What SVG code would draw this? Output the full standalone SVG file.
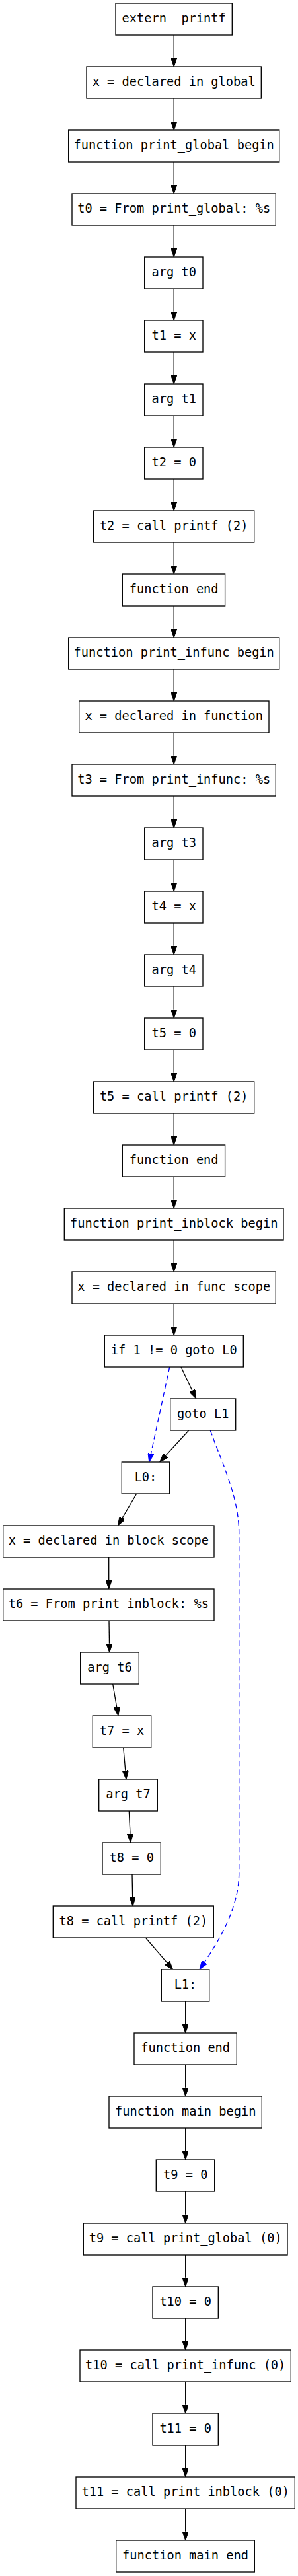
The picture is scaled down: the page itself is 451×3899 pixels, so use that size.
<svg xmlns="http://www.w3.org/2000/svg" width="451" height="3899" viewBox="0 0 451 3899">
<style>
.n rect{fill:#fff;stroke:#000;stroke-width:1.33}
.n text{font-family:"DejaVu Sans Mono","Liberation Mono",monospace;font-size:18.67px;text-anchor:middle;fill:#000}
#edges path{fill:none;stroke:#000;stroke-width:1.33}
#edges path.b{stroke:#0000ff;stroke-dasharray:8,5}
</style>
<defs>
<marker id="ah" viewBox="0 -4.67 13.33 9.34" refX="0" refY="0" markerWidth="13.33" markerHeight="9.34" markerUnits="userSpaceOnUse" orient="auto"><path d="M0,-4.67L13.33,0L0,4.67z" fill="#000" stroke="#000" stroke-width="1"/></marker>
<marker id="ahb" viewBox="0 -4.67 13.33 9.34" refX="0" refY="0" markerWidth="13.33" markerHeight="9.34" markerUnits="userSpaceOnUse" orient="auto"><path d="M0,-4.67L13.33,0L0,4.67z" fill="#0000ff" stroke="#0000ff" stroke-width="1"/></marker>
</defs>
<rect width="451" height="3899" fill="#fff"/>
<g id="edges" marker-end="url(#ah)">
<path d="M263.2,53V87.67" marker-end="url(#ah)"/>
<path d="M263.2,149V183.67" marker-end="url(#ah)"/>
<path d="M263.2,245V279.67" marker-end="url(#ah)"/>
<path d="M263.2,341V375.67" marker-end="url(#ah)"/>
<path d="M263.2,437V471.67" marker-end="url(#ah)"/>
<path d="M263.2,533V567.67" marker-end="url(#ah)"/>
<path d="M263.2,629V663.67" marker-end="url(#ah)"/>
<path d="M263.2,725V759.67" marker-end="url(#ah)"/>
<path d="M263.2,821V855.67" marker-end="url(#ah)"/>
<path d="M263.2,917V951.67" marker-end="url(#ah)"/>
<path d="M263.2,1013V1047.67" marker-end="url(#ah)"/>
<path d="M263.2,1109V1143.67" marker-end="url(#ah)"/>
<path d="M263.2,1205V1239.67" marker-end="url(#ah)"/>
<path d="M263.2,1301V1335.67" marker-end="url(#ah)"/>
<path d="M263.2,1397V1431.67" marker-end="url(#ah)"/>
<path d="M263.2,1493V1527.67" marker-end="url(#ah)"/>
<path d="M263.2,1589V1623.67" marker-end="url(#ah)"/>
<path d="M263.2,1685V1719.67" marker-end="url(#ah)"/>
<path d="M263.2,1781V1815.67" marker-end="url(#ah)"/>
<path d="M263.2,1877V1911.67" marker-end="url(#ah)"/>
<path d="M263.2,1973V2007.67" marker-end="url(#ah)"/>
<path d="M274,2069L291,2104.95" marker-end="url(#ah)"/>
<path class="b" d="M256.7,2069L228.5,2200" marker-end="url(#ahb)"/>
<path d="M285.7,2165L250.7,2203.2" marker-end="url(#ah)"/>
<path class="b" d="M318.3,2165C334,2210 361.7,2265 361.7,2320L361.7,2835C361.7,2885 335,2932 309.5,2969.8" marker-end="url(#ahb)"/>
<path d="M206.7,2261L185.1,2297.5" marker-end="url(#ah)"/>
<path d="M164.7,2357V2391.67" marker-end="url(#ah)"/>
<path d="M165,2453L165.5,2487.7" marker-end="url(#ah)"/>
<path d="M170.7,2549L176.7,2583.9" marker-end="url(#ah)"/>
<path d="M186.7,2645L189.8,2679.7" marker-end="url(#ah)"/>
<path d="M195.3,2741L197,2775.7" marker-end="url(#ah)"/>
<path d="M200,2837L200.7,2871.7" marker-end="url(#ah)"/>
<path d="M221,2933.7L253,2970.9" marker-end="url(#ah)"/>
<path d="M280.7,3029V3063.67" marker-end="url(#ah)"/>
<path d="M280.7,3125V3159.67" marker-end="url(#ah)"/>
<path d="M280.7,3221V3255.67" marker-end="url(#ah)"/>
<path d="M280.7,3317V3351.67" marker-end="url(#ah)"/>
<path d="M280.7,3413V3447.67" marker-end="url(#ah)"/>
<path d="M280.7,3509V3543.67" marker-end="url(#ah)"/>
<path d="M280.7,3605V3639.67" marker-end="url(#ah)"/>
<path d="M280.7,3701V3735.67" marker-end="url(#ah)"/>
<path d="M280.7,3797V3831.67" marker-end="url(#ah)"/>
</g>
<g id="n1" class="n"><rect x="175" y="5" width="176.3" height="48"/><text x="263.2" y="34" xml:space="preserve">extern  printf</text></g>
<g id="n2" class="n"><rect x="131" y="101" width="264.3" height="48"/><text x="263.2" y="130">x = declared in global</text></g>
<g id="n3" class="n"><rect x="103.7" y="197" width="319" height="48"/><text x="263.2" y="226">function print_global begin</text></g>
<g id="n4" class="n"><rect x="109" y="293" width="308.3" height="48"/><text x="263.2" y="322">t0 = From print_global: %s</text></g>
<g id="n5" class="n"><rect x="218.7" y="389" width="88.3" height="48"/><text x="263.2" y="418">arg t0</text></g>
<g id="n6" class="n"><rect x="218.7" y="485" width="88.3" height="48"/><text x="263.2" y="514">t1 = x</text></g>
<g id="n7" class="n"><rect x="218.7" y="581" width="88.3" height="48"/><text x="263.2" y="610">arg t1</text></g>
<g id="n8" class="n"><rect x="218.7" y="677" width="88.3" height="48"/><text x="263.2" y="706">t2 = 0</text></g>
<g id="n9" class="n"><rect x="141.7" y="773" width="243" height="48"/><text x="263.2" y="802">t2 = call printf (2)</text></g>
<g id="n10" class="n"><rect x="185.3" y="869" width="155.3" height="48"/><text x="263.2" y="898">function end</text></g>
<g id="n11" class="n"><rect x="103.7" y="965" width="319" height="48"/><text x="263.2" y="994">function print_infunc begin</text></g>
<g id="n12" class="n"><rect x="119.7" y="1061" width="287.3" height="48"/><text x="263.2" y="1090">x = declared in function</text></g>
<g id="n13" class="n"><rect x="109" y="1157" width="308.3" height="48"/><text x="263.2" y="1186">t3 = From print_infunc: %s</text></g>
<g id="n14" class="n"><rect x="218.7" y="1253" width="88.3" height="48"/><text x="263.2" y="1282">arg t3</text></g>
<g id="n15" class="n"><rect x="218.7" y="1349" width="88.3" height="48"/><text x="263.2" y="1378">t4 = x</text></g>
<g id="n16" class="n"><rect x="218.7" y="1445" width="88.3" height="48"/><text x="263.2" y="1474">arg t4</text></g>
<g id="n17" class="n"><rect x="218.7" y="1541" width="88.3" height="48"/><text x="263.2" y="1570">t5 = 0</text></g>
<g id="n18" class="n"><rect x="141.7" y="1637" width="243" height="48"/><text x="263.2" y="1666">t5 = call printf (2)</text></g>
<g id="n19" class="n"><rect x="185.3" y="1733" width="155.3" height="48"/><text x="263.2" y="1762">function end</text></g>
<g id="n20" class="n"><rect x="97.3" y="1829" width="331.7" height="48"/><text x="263.2" y="1858">function print_inblock begin</text></g>
<g id="n21" class="n"><rect x="109" y="1925" width="308.3" height="48"/><text x="263.2" y="1954">x = declared in func scope</text></g>
<g id="n22" class="n"><rect x="158.3" y="2021" width="210" height="48"/><text x="263.3" y="2050">if 1 != 0 goto L0</text></g>
<g id="n23" class="n"><rect x="257.7" y="2117" width="99" height="48"/><text x="307.2" y="2146">goto L1</text></g>
<g id="n24" class="n"><rect x="184.3" y="2213" width="72.4" height="48"/><text x="220.5" y="2242">L0:</text></g>
<g id="n25" class="n"><rect x="4.7" y="2309" width="319.3" height="48"/><text x="164.3" y="2338">x = declared in block scope</text></g>
<g id="n26" class="n"><rect x="4.7" y="2405" width="319.3" height="48"/><text x="164.3" y="2434">t6 = From print_inblock: %s</text></g>
<g id="n27" class="n"><rect x="121.7" y="2501" width="88.6" height="48"/><text x="166" y="2530">arg t6</text></g>
<g id="n28" class="n"><rect x="140.3" y="2597" width="88.4" height="48"/><text x="184.5" y="2626">t7 = x</text></g>
<g id="n29" class="n"><rect x="149.7" y="2693" width="88.6" height="48"/><text x="194" y="2722">arg t7</text></g>
<g id="n30" class="n"><rect x="155" y="2789" width="88.3" height="48"/><text x="199.2" y="2818">t8 = 0</text></g>
<g id="n31" class="n"><rect x="80.3" y="2885" width="243" height="48"/><text x="201.8" y="2914">t8 = call printf (2)</text></g>
<g id="n32" class="n"><rect x="244.3" y="2981" width="72.4" height="48"/><text x="280.5" y="3010">L1:</text></g>
<g id="n33" class="n"><rect x="203" y="3077" width="155.3" height="48"/><text x="280.7" y="3106">function end</text></g>
<g id="n34" class="n"><rect x="165" y="3173" width="231.3" height="48"/><text x="280.7" y="3202">function main begin</text></g>
<g id="n35" class="n"><rect x="236.3" y="3269" width="88.4" height="48"/><text x="280.7" y="3298">t9 = 0</text></g>
<g id="n36" class="n"><rect x="126.3" y="3365" width="308.7" height="48"/><text x="280.7" y="3394">t9 = call print_global (0)</text></g>
<g id="n37" class="n"><rect x="231" y="3461" width="99.3" height="48"/><text x="280.7" y="3490">t10 = 0</text></g>
<g id="n38" class="n"><rect x="121" y="3557" width="319.3" height="48"/><text x="280.7" y="3586">t10 = call print_infunc (0)</text></g>
<g id="n39" class="n"><rect x="231" y="3653" width="99.3" height="48"/><text x="280.7" y="3682">t11 = 0</text></g>
<g id="n40" class="n"><rect x="115" y="3749" width="331.3" height="48"/><text x="280.7" y="3778">t11 = call print_inblock (0)</text></g>
<g id="n41" class="n"><rect x="175.7" y="3845" width="209.6" height="48"/><text x="280.5" y="3874">function main end</text></g>
</svg>
